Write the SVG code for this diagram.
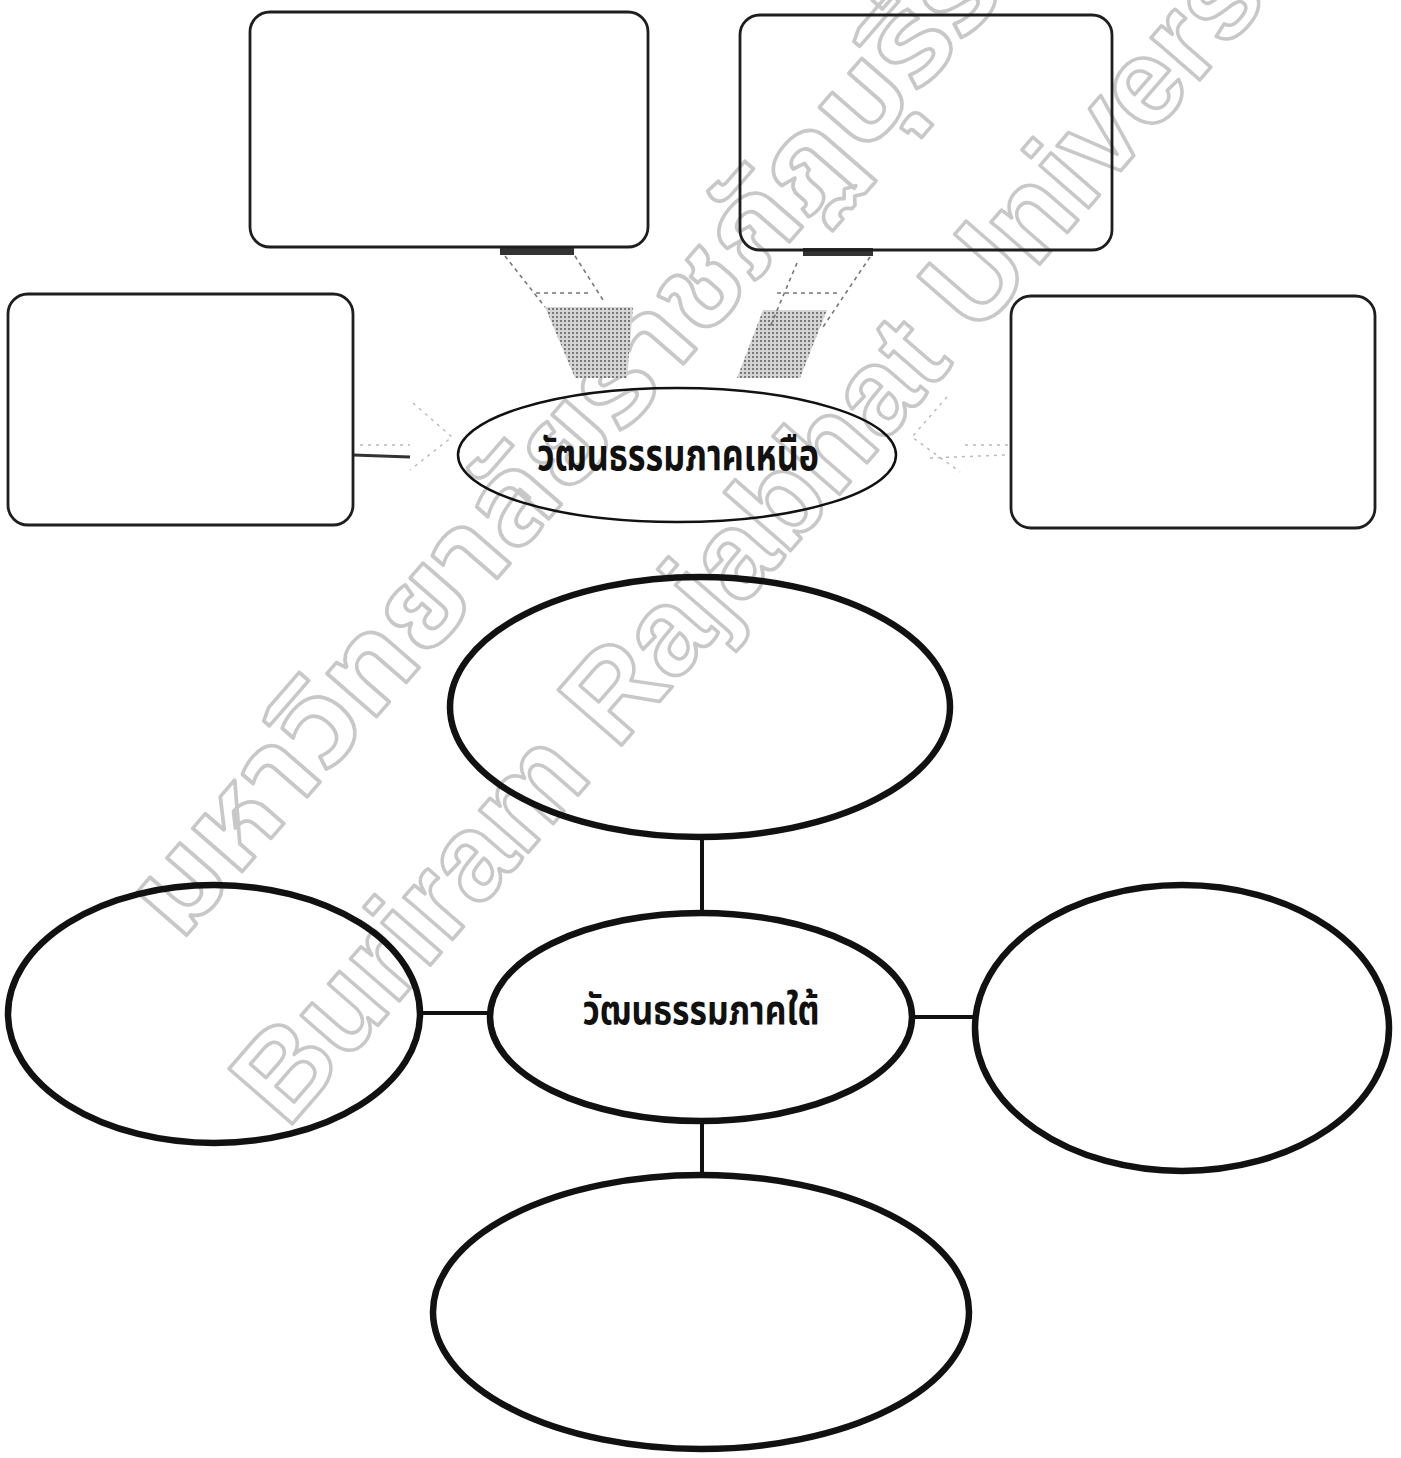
<svg xmlns="http://www.w3.org/2000/svg" width="1401" height="1458" viewBox="0 0 1401 1458">
  <style>
    .wm { font-family: "Liberation Sans", Arial, sans-serif; font-weight: bold; fill: none; stroke: #c8c8c8; stroke-width: 3.5; stroke-linejoin: round; }
    .wmth { font-family: "Noto Sans Thai", "Loma", "Garuda", "Noto Sans", sans-serif; font-weight: bold; fill: none; stroke: #c8c8c8; stroke-width: 3.5; stroke-linejoin: round; }
    .box { fill: none; stroke: #1e1e1e; stroke-width: 2.8; }
    .oval { fill: none; stroke: #111; stroke-width: 6.5; }
    .oval-thin { fill: none; stroke: #111; stroke-width: 2.5; }
    .line { stroke: #111; stroke-width: 4; fill: none; }
    .label { font-family: "Noto Sans Thai", "Loma", "Garuda", "Noto Sans", sans-serif; font-weight: bold; fill: #111; text-anchor: middle; }
    .dash { fill: none; stroke: #777; stroke-width: 1.6; stroke-dasharray: 4 4; }
    .faint { fill: none; stroke: #bbb; stroke-width: 1.5; stroke-dasharray: 3 5; }
    .bar { fill: #333; }
  </style>
  <defs>
    <pattern id="ht" width="4" height="4" patternUnits="userSpaceOnUse">
      <rect width="4" height="4" fill="#d4d4d4"/>
      <rect x="0" y="0" width="2" height="2" fill="#7a7a7a"/>
    </pattern>
  </defs>

  <rect width="1401" height="1458" fill="#fff"/>

  <g id="watermark">
    <text class="wmth" font-size="120" textLength="1425" lengthAdjust="spacingAndGlyphs" transform="translate(180,943) rotate(-49)">มหาวิทยาลัยราชภัฏบุรีรัมย์</text>
    <text class="wm" font-size="122" transform="translate(287,1130) rotate(-49)">Buriram Rajabhat University</text>
  </g>

  <g id="connectors">
    <!-- top-left block arrow -->
    <rect class="bar" x="500" y="247" width="74" height="8"/>
    <polygon points="545,307 633,307 627,378 575,378" fill="url(#ht)"/>
    <path class="dash" d="M505,256 L545,307 M575,256 L603,300 M536,293 L592,293"/>
    <!-- top-right block arrow -->
    <rect class="bar" x="803" y="248" width="70" height="8"/>
    <polygon points="763,310 827,310 800,378 737,378" fill="url(#ht)"/>
    <path class="dash" d="M797,263 L770,327 M870,257 L823,327 M777,293 L837,293"/>
    <!-- left faint arrow -->
    <path class="faint" d="M360,445 L410,445 M413,403 L452,437 L410,470"/>
    <path d="M353,455 L410,457" stroke="#333" stroke-width="3" fill="none"/>
    <!-- right faint arrow -->
    <path class="faint" d="M1008,445 L960,445 M947,397 L912,437 L960,472 M930,458 L1005,455"/>
    <!-- mind map lines -->
    <line class="line" x1="702" y1="838" x2="702" y2="913"/>
    <line class="line" x1="420" y1="1013" x2="490" y2="1013"/>
    <line class="line" x1="913" y1="1017" x2="975" y2="1017"/>
    <line class="line" x1="702" y1="1122" x2="702" y2="1175"/>
  </g>

  <g id="box-top-left"><rect class="box" x="250" y="12" width="398" height="235" rx="20"/></g>
  <g id="box-top-right"><rect class="box" x="740" y="15" width="372" height="235" rx="20"/></g>
  <g id="box-left"><rect class="box" x="8" y="294" width="345" height="231" rx="20"/></g>
  <g id="box-right"><rect class="box" x="1011" y="296" width="364" height="232" rx="20"/></g>

  <g id="north-center">
    <ellipse class="oval-thin" cx="677" cy="455" rx="219" ry="67"/>
    <text class="label" x="678" y="470" font-size="44" textLength="282" lengthAdjust="spacingAndGlyphs">วัฒนธรรมภาคเหนือ</text>
  </g>

  <g id="oval-top"><ellipse class="oval" cx="700" cy="707" rx="250" ry="130"/></g>
  <g id="south-center">
    <ellipse class="oval" cx="701" cy="1017" rx="211" ry="104"/>
    <text class="label" x="701" y="1024" font-size="40" textLength="237" lengthAdjust="spacingAndGlyphs">วัฒนธรรมภาคใต้</text>
  </g>
  <g id="oval-left"><ellipse class="oval" cx="214" cy="1014" rx="206" ry="129"/></g>
  <g id="oval-right"><ellipse class="oval" cx="1182" cy="1028" rx="207" ry="143"/></g>
  <g id="oval-bottom"><ellipse class="oval" cx="701" cy="1312" rx="268" ry="137"/></g>
</svg>
